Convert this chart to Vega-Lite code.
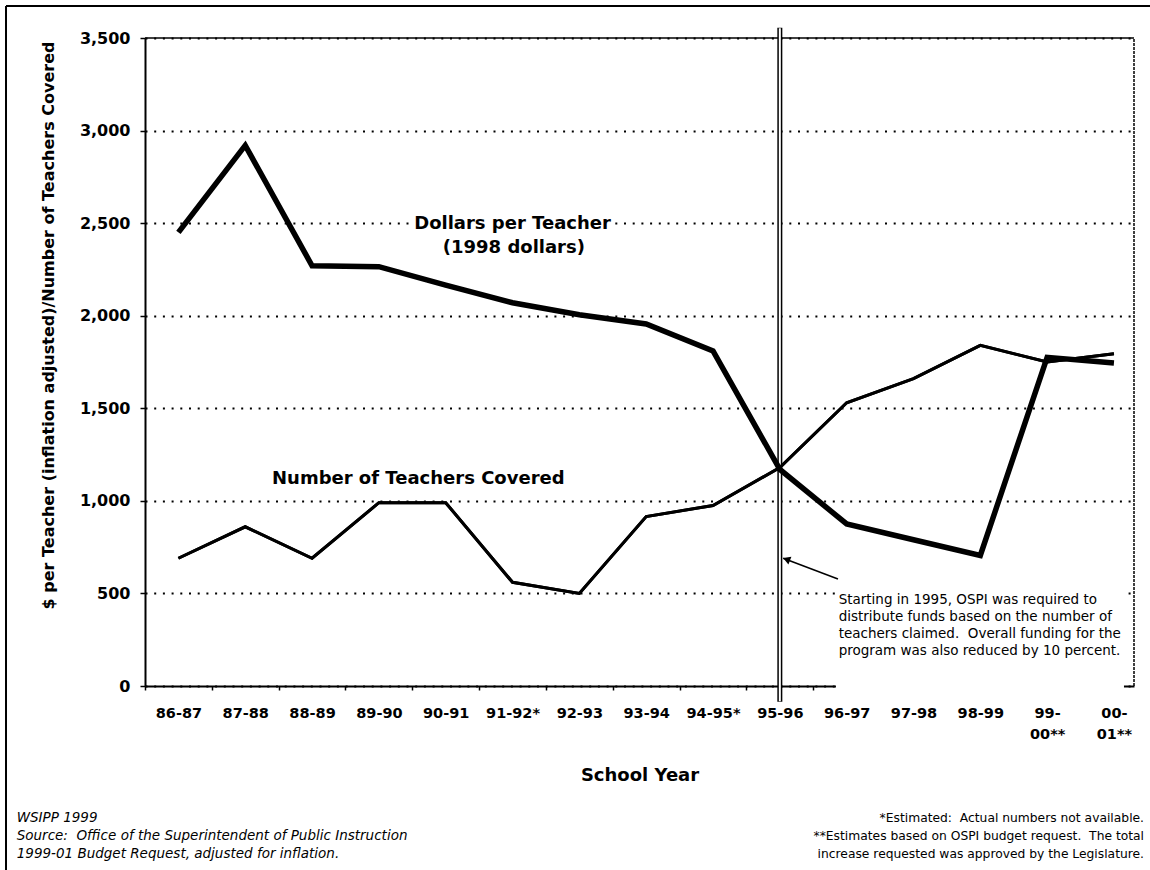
{
  "$schema": "https://vega.github.io/schema/vega-lite/v6.json",
  "width": 989,
  "height": 648,
  "autosize": {"type": "none"},
  "padding": {"left": 145, "top": 38, "right": 16, "bottom": 184},
  "background": "white",
  "config": {"view": {"stroke": null}, "font": "DejaVu Sans"},
  "resolve": {"axis": {"x": "independent", "y": "independent"}},
  "datasets": {
    "main": [
      {"i": 0, "year": "86-87", "dollars": 2450, "teachers": 690},
      {"i": 1, "year": "87-88", "dollars": 2920, "teachers": 860},
      {"i": 2, "year": "88-89", "dollars": 2270, "teachers": 690},
      {"i": 3, "year": "89-90", "dollars": 2265, "teachers": 990},
      {"i": 4, "year": "90-91", "dollars": 2165, "teachers": 990},
      {"i": 5, "year": "91-92*", "dollars": 2070, "teachers": 560},
      {"i": 6, "year": "92-93", "dollars": 2005, "teachers": 500},
      {"i": 7, "year": "93-94", "dollars": 1955, "teachers": 915},
      {"i": 8, "year": "94-95*", "dollars": 1810, "teachers": 975},
      {"i": 9, "year": "95-96", "dollars": 1170, "teachers": 1180},
      {"i": 10, "year": "96-97", "dollars": 875, "teachers": 1530},
      {"i": 11, "year": "97-98", "dollars": 790, "teachers": 1660},
      {"i": 12, "year": "98-99", "dollars": 705, "teachers": 1840},
      {"i": 13, "year": "99-00**", "dollars": 1775, "teachers": 1750},
      {"i": 14, "year": "00-01**", "dollars": 1745, "teachers": 1795}
    ],
    "series": [
      {"x": 5.0, "y": 2495, "text": "Dollars per Teacher"},
      {"x": 5.02, "y": 2366, "text": "(1998 dollars)"},
      {"x": 3.59, "y": 1118, "text": "Number of Teachers Covered"}
    ],
    "labelbg": [
      {"x": 3.49, "x2": 6.52, "y": 2450, "y2": 2545}
    ],
    "box": [
      {"x": 9.88, "y": 464, "text": "Starting in 1995, OSPI was required to"},
      {"x": 9.88, "y": 373, "text": "distribute funds based on the number of"},
      {"x": 9.88, "y": 281, "text": "teachers claimed.\u00a0 Overall funding for the"},
      {"x": 9.88, "y": 189, "text": "program was also reduced by 10 percent."}
    ],
    "leftnotes": [
      {"x": -2.42, "y": -713, "text": "WSIPP 1999"},
      {"x": -2.42, "y": -810, "text": "Source:\u00a0 Office of the Superintendent of Public Instruction"},
      {"x": -2.42, "y": -907, "text": "1999-01 Budget Request, adjusted for inflation."}
    ],
    "rightnotes": [
      {"x": 14.45, "y": -713, "text": "*Estimated:\u00a0 Actual numbers not available."},
      {"x": 14.45, "y": -810, "text": "**Estimates based on OSPI budget request.\u00a0 The total"},
      {"x": 14.45, "y": -907, "text": "increase requested was approved by the Legislature."}
    ],
    "arrow": [
      {"x": 9.87, "y": 578, "x2": 9.05, "y2": 690}
    ],
    "arrowhead": [
      {"x": 9.1, "y": 684}
    ]
  },
  "layer": [
    {
      "data": {"name": "main"},
      "mark": {"type": "line", "color": "black", "strokeWidth": 3, "strokeJoin": "miter"},
      "encoding": {
        "x": {
          "field": "i", "type": "quantitative",
          "scale": {"domain": [-0.5, 14.3], "nice": false, "zero": false},
          "axis": {
            "values": [-0.5, 0, 0.5, 1, 1.5, 2, 2.5, 3, 3.5, 4, 4.5, 5, 5.5, 6, 6.5, 7, 7.5, 8, 8.5, 9, 9.5, 10, 10.5, 11, 11.5, 12, 12.5, 13, 13.5, 14],
            "labelExpr": "datum.value == 0 ? '86-87' : datum.value == 1 ? '87-88' : datum.value == 2 ? '88-89' : datum.value == 3 ? '89-90' : datum.value == 4 ? '90-91' : datum.value == 5 ? '91-92*' : datum.value == 6 ? '92-93' : datum.value == 7 ? '93-94' : datum.value == 8 ? '94-95*' : datum.value == 9 ? '95-96' : datum.value == 10 ? '96-97' : datum.value == 11 ? '97-98' : datum.value == 12 ? '98-99' : datum.value == 13 ? ['99-', '00**'] : datum.value == 14 ? ['00-', '01**'] : ''",
            "labelFont": "DejaVu Sans", "labelFontWeight": "bold", "labelFontSize": 14.5, "labelColor": "black",
            "labelPadding": 16, "labelLineHeight": 21, "labelOverlap": false, "labelFlush": false, "labelBound": false, "labelAngle": 0,
            "tickSize": 4, "tickColor": "black", "tickWidth": 1.5,
            "tickOpacity": {"condition": {"test": "datum.value % 1 != 0", "value": 1}, "value": 0},
            "domainColor": "black", "domainWidth": 2, "grid": false,
            "title": "School Year", "titleFont": "DejaVu Sans", "titleFontWeight": "bold", "titleFontSize": 18, "titleColor": "black",
            "titleY": 80, "titleBaseline": "top"
          }
        },
        "y": {
          "field": "teachers", "type": "quantitative",
          "scale": {"domain": [0, 3500], "nice": false, "zero": false},
          "axis": {
            "values": [0, 500, 1000, 1500, 2000, 2500, 3000, 3500],
            "labelExpr": "format(datum.value, ',')",
            "labelFont": "DejaVu Sans", "labelFontWeight": "bold", "labelFontSize": 16, "labelColor": "black", "labelPadding": 10,
            "tickSize": 5, "tickColor": "black", "tickWidth": 1.5,
            "domainColor": "black", "domainWidth": 2,
            "grid": true, "gridColor": "black", "gridDash": [2, 6.7], "gridWidth": 2,
            "title": "$ per Teacher (inflation adjusted)/Number of Teachers Covered",
            "titleFont": "DejaVu Sans", "titleFontWeight": "bold", "titleFontSize": 16, "titleColor": "black",
            "titleX": -97, "titleY": 287, "titleAngle": 270, "titleAlign": "center", "titleBaseline": "middle"
          }
        }
      }
    },
    {
      "data": {"name": "arrowhead"},
      "mark": {"type": "rect", "color": "white"},
      "encoding": {
        "x": {"datum": 9.84, "type": "quantitative", "axis": null},
        "x2": {"datum": 14.15},
        "y": {"datum": 532, "type": "quantitative", "axis": null},
        "y2": {"datum": -40}
      }
    },
    {
      "data": {"name": "labelbg"},
      "mark": {"type": "rect", "color": "white"},
      "encoding": {
        "x": {"field": "x", "type": "quantitative", "axis": null},
        "x2": {"field": "x2"},
        "y": {"field": "y", "type": "quantitative", "axis": null},
        "y2": {"field": "y2"}
      }
    },
    {
      "data": {"name": "arrowhead"},
      "mark": {"type": "rule", "color": "black", "strokeWidth": 1.5},
      "encoding": {
        "x": {"datum": -0.5, "type": "quantitative", "axis": null},
        "x2": {"datum": 14.3},
        "y": {"datum": 3500, "type": "quantitative", "axis": null}
      }
    },
    {
      "data": {"name": "arrowhead"},
      "mark": {"type": "rule", "color": "black", "strokeWidth": 1.5, "strokeDash": [3, 1]},
      "encoding": {
        "x": {"datum": 14.3, "type": "quantitative", "axis": null},
        "y": {"datum": 0, "type": "quantitative", "axis": null},
        "y2": {"datum": 3500}
      }
    },
    {
      "data": {"name": "arrowhead"},
      "mark": {"type": "rule", "color": "black", "strokeWidth": 2},
      "encoding": {
        "x": {"datum": -2.58, "type": "quantitative", "axis": null},
        "y": {"datum": 3673, "type": "quantitative", "axis": null},
        "y2": {"datum": -1100}
      }
    },
    {
      "data": {"name": "arrowhead"},
      "mark": {"type": "rule", "color": "black", "strokeWidth": 2},
      "encoding": {
        "x": {"datum": -2.58, "type": "quantitative", "axis": null},
        "x2": {"datum": 16},
        "y": {"datum": 3673, "type": "quantitative", "axis": null}
      }
    },
    {
      "data": {"name": "arrowhead"},
      "mark": {"type": "rule", "color": "black", "strokeWidth": 5},
      "encoding": {
        "x": {"datum": 9, "type": "quantitative", "axis": null},
        "y": {"datum": 3555, "type": "quantitative", "axis": null},
        "y2": {"datum": -85}
      }
    },
    {
      "data": {"name": "arrowhead"},
      "mark": {"type": "rule", "color": "white", "strokeWidth": 2},
      "encoding": {
        "x": {"datum": 9, "type": "quantitative", "axis": null},
        "y": {"datum": 3553, "type": "quantitative", "axis": null},
        "y2": {"datum": -83}
      }
    },
    {
      "data": {"name": "main"},
      "mark": {"type": "line", "color": "black", "strokeWidth": 5.5, "strokeJoin": "miter"},
      "encoding": {
        "x": {"field": "i", "type": "quantitative", "axis": null},
        "y": {"field": "dollars", "type": "quantitative", "axis": null}
      }
    },
    {
      "data": {"name": "main"},
      "mark": {"type": "line", "color": "black", "strokeWidth": 3, "strokeJoin": "miter"},
      "encoding": {
        "x": {"field": "i", "type": "quantitative", "axis": null},
        "y": {"field": "teachers", "type": "quantitative", "axis": null}
      }
    },
    {
      "data": {"name": "arrow"},
      "mark": {"type": "rule", "color": "black", "strokeWidth": 1.5},
      "encoding": {
        "x": {"field": "x", "type": "quantitative", "axis": null},
        "x2": {"field": "x2"},
        "y": {"field": "y", "type": "quantitative", "axis": null},
        "y2": {"field": "y2"}
      }
    },
    {
      "data": {"name": "arrowhead"},
      "mark": {"type": "point", "shape": "triangle-up", "filled": true, "color": "black", "size": 70, "angle": 291, "opacity": 1},
      "encoding": {
        "x": {"field": "x", "type": "quantitative", "axis": null},
        "y": {"field": "y", "type": "quantitative", "axis": null}
      }
    },
    {
      "data": {"name": "series"},
      "mark": {"type": "text", "font": "DejaVu Sans", "fontWeight": "bold", "fontSize": 18, "color": "black", "align": "center", "baseline": "middle"},
      "encoding": {
        "x": {"field": "x", "type": "quantitative", "axis": null},
        "y": {"field": "y", "type": "quantitative", "axis": null},
        "text": {"field": "text"}
      }
    },
    {
      "data": {"name": "box"},
      "mark": {"type": "text", "font": "DejaVu Sans", "fontSize": 13.5, "color": "black", "align": "left", "baseline": "middle"},
      "encoding": {
        "x": {"field": "x", "type": "quantitative", "axis": null},
        "y": {"field": "y", "type": "quantitative", "axis": null},
        "text": {"field": "text"}
      }
    },
    {
      "data": {"name": "leftnotes"},
      "mark": {"type": "text", "font": "DejaVu Sans", "fontStyle": "italic", "fontSize": 13.5, "color": "black", "align": "left", "baseline": "middle"},
      "encoding": {
        "x": {"field": "x", "type": "quantitative", "axis": null},
        "y": {"field": "y", "type": "quantitative", "axis": null},
        "text": {"field": "text"}
      }
    },
    {
      "data": {"name": "rightnotes"},
      "mark": {"type": "text", "font": "DejaVu Sans", "fontSize": 12.3, "color": "black", "align": "right", "baseline": "middle"},
      "encoding": {
        "x": {"field": "x", "type": "quantitative", "axis": null},
        "y": {"field": "y", "type": "quantitative", "axis": null},
        "text": {"field": "text"}
      }
    }
  ]
}
